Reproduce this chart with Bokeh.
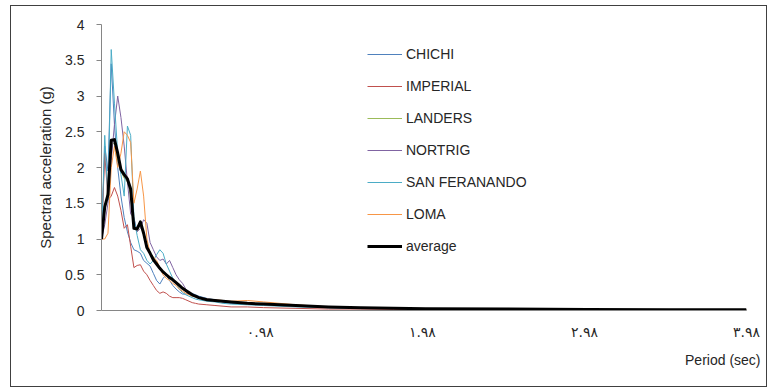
from bokeh.plotting import figure
from bokeh.models import FixedTicker, NumeralTickFormatter, Legend, LegendItem, Title
from bokeh.embed import file_html
from bokeh.resources import INLINE

periods = [0.00, 0.02, 0.04, 0.06, 0.08, 0.10, 0.12, 0.14, 0.16, 0.18, 0.20, 0.22, 0.24, 0.26, 0.28,
           0.30, 0.32, 0.34, 0.36, 0.38, 0.40, 0.42, 0.44, 0.46, 0.48, 0.50, 0.52, 0.54, 0.56, 0.58,
           0.60, 0.65, 0.70, 0.75, 0.80, 0.90, 1.00, 1.20, 1.40, 1.60, 1.80, 2.00, 2.50, 3.00, 3.50, 3.98]

chichi = [1.00, 2.30, 1.95, 3.45, 2.60, 2.00, 1.60, 1.30, 1.10, 0.95, 0.85, 0.83, 0.80, 0.70, 0.66,
          0.62, 0.52, 0.42, 0.37, 0.45, 0.50, 0.42, 0.35, 0.30, 0.26, 0.23, 0.23, 0.24, 0.24, 0.22,
          0.20, 0.17, 0.15, 0.12, 0.10, 0.09, 0.08, 0.06, 0.04, 0.03, 0.035, 0.02, 0.015, 0.01, 0.01, 0.01]
imperial = [1.00, 2.20, 1.55, 1.60, 1.72, 1.60, 1.40, 1.15, 1.20, 0.90, 0.60, 0.63, 0.64, 0.55, 0.50,
            0.42, 0.35, 0.28, 0.24, 0.26, 0.24, 0.20, 0.18, 0.18, 0.18, 0.17, 0.15, 0.13, 0.11, 0.10,
            0.09, 0.08, 0.07, 0.06, 0.05, 0.05, 0.04, 0.03, 0.02, 0.02, 0.015, 0.01, 0.01, 0.01, 0.01, 0.01]
landers = [1.00, 1.40, 1.70, 2.30, 2.35, 2.10, 1.95, 1.85, 1.80, 1.62, 1.18, 1.12, 1.20, 1.06, 0.88,
           0.80, 0.71, 0.65, 0.59, 0.54, 0.50, 0.46, 0.43, 0.39, 0.35, 0.31, 0.28, 0.25, 0.22, 0.20,
           0.18, 0.15, 0.14, 0.13, 0.12, 0.10, 0.09, 0.07, 0.05, 0.04, 0.03, 0.025, 0.02, 0.015, 0.012, 0.01]
nortrig = [1.00, 1.20, 1.50, 2.10, 2.60, 3.00, 2.70, 2.30, 1.80, 1.35, 1.30, 1.10, 1.15, 1.27, 1.22,
           0.95, 0.85, 0.75, 0.70, 0.72, 0.65, 0.70, 0.60, 0.50, 0.43, 0.38, 0.30, 0.25, 0.22, 0.20,
           0.18, 0.16, 0.14, 0.12, 0.11, 0.10, 0.09, 0.07, 0.05, 0.04, 0.03, 0.02, 0.015, 0.01, 0.01, 0.01]
san_feranando = [1.00, 2.45, 1.55, 3.65, 2.90, 2.20, 1.90, 1.60, 2.58, 2.45, 1.30, 1.05, 0.85, 0.80, 0.70,
                 0.65, 0.70, 0.78, 0.85, 0.80, 0.65, 0.55, 0.45, 0.38, 0.30, 0.25, 0.22, 0.20, 0.18, 0.16,
                 0.15, 0.13, 0.12, 0.10, 0.09, 0.08, 0.07, 0.05, 0.04, 0.03, 0.03, 0.02, 0.015, 0.01, 0.01, 0.01]
loma = [1.00, 1.00, 1.08, 2.00, 2.30, 2.00, 2.20, 2.50, 2.45, 2.35, 1.50, 1.70, 1.95, 1.60, 1.00,
        0.80, 0.75, 0.70, 0.60, 0.50, 0.45, 0.42, 0.38, 0.35, 0.30, 0.27, 0.24, 0.22, 0.20, 0.19,
        0.18, 0.16, 0.15, 0.14, 0.13, 0.14, 0.12, 0.08, 0.05, 0.04, 0.03, 0.02, 0.015, 0.01, 0.01, 0.01]
average = [1.00, 1.45, 1.62, 2.38, 2.39, 2.20, 1.97, 1.90, 1.84, 1.70, 1.15, 1.14, 1.24, 1.08, 0.88,
           0.80, 0.71, 0.65, 0.59, 0.54, 0.50, 0.46, 0.43, 0.39, 0.35, 0.31, 0.28, 0.25, 0.22, 0.20,
           0.18, 0.15, 0.14, 0.13, 0.12, 0.10, 0.09, 0.07, 0.05, 0.04, 0.03, 0.025, 0.02, 0.015, 0.012, 0.01]

series_names = ["CHICHI", "IMPERIAL", "LANDERS", "NORTRIG", "SAN FERANANDO", "LOMA", "average"]
series_values = [chichi, imperial, landers, nortrig, san_feranando, loma, average]
series_colors = ["#4F81BD", "#C0504D", "#9BBB59", "#8064A2", "#4BACC6", "#F79646", "#000000"]
series_widths = [1, 1, 1, 1, 1, 1, 3]

y_ticks = [0, 0.5, 1, 1.5, 2, 2.5, 3, 3.5, 4]
x_ticks = [0.98, 1.98, 2.98, 3.98]
x_tick_labels = ["۰.۹۸", "۱.۹۸", "۲.۹۸", "۳.۹۸"]

TEXT = "#262626"
AXIS = "#868686"
FONT = "Liberation Sans"

p = figure(width=755, height=380, x_range=(0, 3.98), y_range=(0, 4),
           output_backend="svg", toolbar_location=None,
           min_border_left=90, min_border_right=20, min_border_top=18, min_border_bottom=76,
           margin=(6, 0, 0, 11))
p.styles = {"outline": "1px solid #404040"}
p.outline_line_color = None
p.xgrid.visible = False
p.ygrid.visible = False
p.background_fill_color = "white"
p.border_fill_color = "white"

items = []
for name, vals, col, w in zip(series_names, series_values, series_colors, series_widths):
    r = p.line(periods, vals, line_color=col, line_width=w, line_join="round")
    items.append(LegendItem(label=name, renderers=[r]))

legend = Legend(items=items, location=(266, 54), orientation="vertical",
                glyph_width=35, glyph_height=20, label_height=20, spacing=12,
                label_standoff=4, padding=0, margin=0,
                border_line_color=None, background_fill_alpha=0,
                label_text_font=FONT, label_text_font_size="14px", label_text_color=TEXT)
p.add_layout(legend)

# y axis
yax = p.yaxis[0]
yax.ticker = FixedTicker(ticks=y_ticks)
yax.formatter = NumeralTickFormatter(format="0.[0]")
yax.axis_line_color = AXIS
yax.major_tick_line_color = AXIS
yax.major_tick_out = 5
yax.major_tick_in = 0
yax.minor_tick_line_color = None
yax.major_label_standoff = 12
yax.major_label_text_font = FONT
yax.major_label_text_font_size = "14px"
yax.major_label_text_color = TEXT
yax.axis_label = "Spectral acceleration (g)"
yax.axis_label_text_font = FONT
yax.axis_label_text_font_size = "15px"
yax.axis_label_text_font_style = "normal"
yax.axis_label_text_color = TEXT
yax.axis_label_standoff = 8

# x axis
xax = p.xaxis[0]
xax.ticker = FixedTicker(ticks=x_ticks)
xax.major_label_overrides = dict(zip(x_ticks, x_tick_labels))
xax.axis_line_color = AXIS
xax.major_tick_out = 0
xax.major_tick_in = 0
xax.minor_tick_line_color = None
xax.major_tick_line_color = None
xax.major_label_standoff = 13
xax.major_label_text_font = "DejaVu Sans"
xax.major_label_text_font_size = "14px"
xax.major_label_text_color = TEXT

p.add_layout(Title(text="Period (sec)", align="right", offset=-14, standoff=14,
                   text_font=FONT, text_font_size="14px", text_font_style="normal",
                   text_color=TEXT), "below")

open("out.html", "w").write(file_html(p, INLINE))
